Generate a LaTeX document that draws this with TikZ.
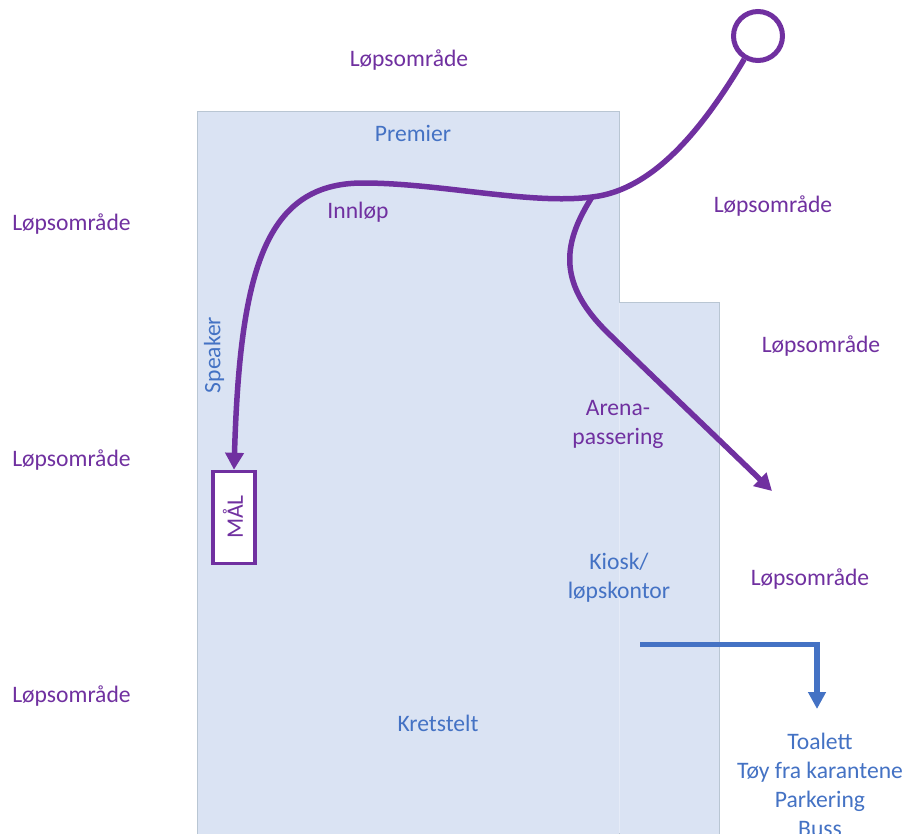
\documentclass[tikz,border=0pt]{standalone}
\usepackage{fontspec}
\setmainfont{Carlito}
\usetikzlibrary{arrows.meta}
\definecolor{purp}{HTML}{7030A0}
\definecolor{blu}{HTML}{4472C4}
\definecolor{areafill}{HTML}{DAE3F3}
\definecolor{areaedge}{HTML}{B9C6D3}
\tikzset{
  lbl/.style={font=\fontsize{23.6}{29}\selectfont, align=center, inner sep=0pt},
  pl/.style={lbl, text=purp},
  bl/.style={lbl, text=blu},
  area/.style={fill=areafill, draw=areaedge, line width=1pt},
  run/.style={draw=purp, line width=5.5pt},
  runarrow/.style={run, -{Triangle[length=17pt,width=18pt]}},
  busarrow/.style={draw=blu, line width=5.5pt, -{Triangle[length=17pt,width=17pt]}}
}
\begin{document}
\begin{tikzpicture}[x=1pt,y=-1pt]
\useasboundingbox (0,0) rectangle (907,833);
\clip (0,0) rectangle (907,833);
\fill[white] (0,0) rectangle (907,833);
\path[area] (619.5,302) rectangle (719.5,850);
\path[area] (197,111) rectangle (619.5,850);
\draw[areafill!70!white, line width=1pt] (619.5,303) -- (619.5,833);
\node[pl] (l1) at (409,60) {Løpsområde};
\node[pl] (l2) at (71.5,224) {Løpsområde};
\node[pl] (l3) at (773,206) {Løpsområde};
\node[pl] (l4) at (821,346) {Løpsområde};
\node[pl] (l5) at (71.5,460) {Løpsområde};
\node[pl] (l6) at (810,579) {Løpsområde};
\node[pl] (l7) at (71.5,696) {Løpsområde};
\node[bl] (premier) at (413,133) {Premier};
\node[pl] (innlop) at (358,212) {Innløp};
\node[bl, rotate=90] (speaker) at (214,355) {Speaker};
\node[pl] (arena) at (618,424.5) {Arena-\\passering};
\node[bl] (kiosk) at (619,578) {Kiosk/\\løpskontor};
\node[bl] (krets) at (438,723) {Kretstelt};
\node[bl, anchor=north] (toalett) at (820,733) {Toalett\\Tøy fra karantene\\Parkering\\Buss};
\node[draw=purp, line width=5pt, fill=white, minimum width=49pt, minimum height=49pt, circle, inner sep=0pt] (start) at (758,36) {};
\node[draw=purp, line width=3.5pt, fill=white, minimum width=42pt, minimum height=92pt, inner sep=0pt] (maal) at (234,517.5) {};
\node[lbl, text=purp, rotate=90] (maaltxt) at (233,517) {MÅL};
\coordinate (split) at (592,197);
\coordinate (busstart) at (640,644.5);
\coordinate (busend) at (817,709);
\coordinate (bend) at (606,331);
\coordinate (runend) at (772,491);
\draw[runarrow] (start) .. controls (705,125) and (655,190) .. (split)
  .. controls (530,205) and (440,183) .. (363,183)
  .. controls (265,183) and (240,270) .. (maal.north);
\draw[runarrow] (split) .. controls (565,240) and (555,280) .. (bend)
  .. controls (650,374) and (710,431) .. (runend);
\draw[busarrow] (busstart) -| (busend);
\end{tikzpicture}
\end{document}
